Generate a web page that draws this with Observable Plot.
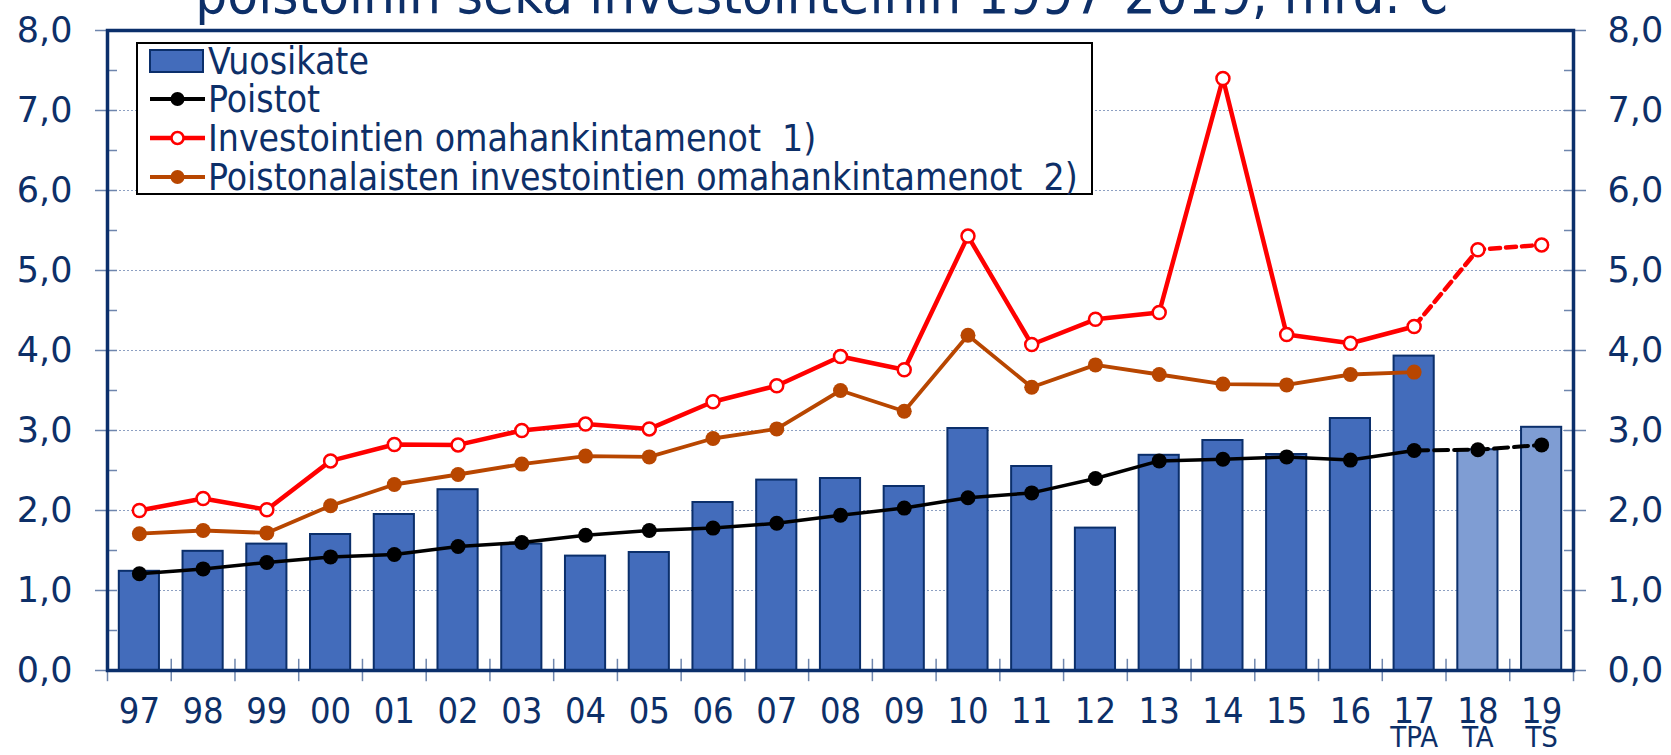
<!DOCTYPE html>
<html><head><meta charset="utf-8">
<script src="https://cdn.jsdelivr.net/npm/d3@7"></script>
<script src="https://cdn.jsdelivr.net/npm/@observablehq/plot@0.6"></script>
<style>
html,body{margin:0;padding:0;background:#fff;}
#wrap{position:relative;width:1671px;height:755px;overflow:hidden;background:#fff;}
#wrap > svg{position:absolute;left:0;top:0;}
</style></head>
<body><div id="wrap"></div>
<script>
// ---- data ----
const years = ["97","98","99","00","01","02","03","04","05","06","07","08","09","10","11","12","13","14","15","16","17","18","19"];
const subYears = ["17","18","19"];
const subLabels = ["TPA","TA","TS"];
const vuosikate = [1.24,1.49,1.58,1.70,1.95,2.26,1.58,1.43,1.475,2.10,2.38,2.40,2.30,3.025,2.55,1.78,2.69,2.875,2.70,3.15,3.93,2.76,3.04];
const poistot = [1.21,1.27,1.35,1.42,1.45,1.55,1.60,1.69,1.75,1.78,1.84,1.94,2.03,2.16,2.22,2.40,2.62,2.64,2.67,2.63,2.75,2.76,2.82];
const investoinnit = [2.00,2.15,2.01,2.62,2.825,2.82,3.00,3.08,3.02,3.36,3.56,3.925,3.76,5.43,4.075,4.39,4.475,7.40,4.20,4.09,4.30,5.26,5.32];
const poistonalaiset = [1.71,1.75,1.72,2.06,2.325,2.45,2.58,2.68,2.67,2.90,3.02,3.50,3.24,4.19,3.54,3.82,3.70,3.58,3.57,3.70,3.73];
const firstForecast = "18";
const yTicks = [0,1,2,3,4,5,6,7,8];
const yMinorTicks = [0.5,1.5,2.5,3.5,4.5,5.5,6.5,7.5];
const gridValues = [1,2,3,4,5,6,7];
const seriesNames = ["Vuosikate","Poistot","Investointien omahankintamenot  1)","Poistonalaisten investointien omahankintamenot  2)"];
const titleText = "poistoihin sekä investointeihin 1997-2019, mrd. €";

// ---- layout / style ----
const W = 1671, H = 755, ML = 107, MR = 98, MT = 30, MB = 85;
const step = (W - ML - MR) / years.length;
const navy = "#0b2f6b", txt = "#0d2f68", tickCol = "#6f86ad";
const barFill = "#436cbb", barFillFc = "#7f9dd3";
const red = "#ff0000", brown = "#b84600";
const condFont = "'DejaVu Sans Condensed','Liberation Sans Narrow','DejaVu Sans',sans-serif";
const wideFont = "'DejaVu Sans',Verdana,sans-serif";
const fcIndex = years.indexOf(firstForecast);
const fmt = d => d.toFixed(1).replace(".", ",");

const bars = years.map((y, i) => ({year: y, v: vuosikate[i], fill: i >= fcIndex ? barFillFc : barFill}));
const series = arr => arr.map((v, i) => ({year: years[i], v, i}));
const poi = series(poistot), inv = series(investoinnit), pal = series(poistonalaiset);
const isSolid = d => d.i <= fcIndex - 1;
const isDashed = d => d.i >= fcIndex - 1;
const subs = subYears.map((y, i) => ({year: y, t: subLabels[i]}));

const chart = Plot.plot({
  width: W, height: H,
  marginLeft: ML, marginRight: MR, marginTop: MT, marginBottom: MB,
  x: {type: "band", domain: years, paddingInner: 0.37, paddingOuter: 0.185, round: false, axis: null},
  y: {domain: [0, 8], axis: null},
  color: {type: "identity"},
  style: {background: "transparent", overflow: "visible", fontFamily: wideFont},
  marks: [
    Plot.ruleY(gridValues, {stroke: "#8da0c2", strokeWidth: 1.2, strokeDasharray: "2,2"}),
    Plot.barY(bars, {x: "year", y: "v", fill: "fill", stroke: navy, strokeWidth: 2}),
    // Poistot
    Plot.line(poi.filter(isSolid), {x: "year", y: "v", stroke: "#000", strokeWidth: 3.5}),
    Plot.line(poi.filter(isDashed), {x: "year", y: "v", stroke: "#000", strokeWidth: 4, strokeDasharray: "14,6"}),
    // Poistonalaiset
    Plot.line(pal, {x: "year", y: "v", stroke: brown, strokeWidth: 3.8}),
    Plot.dot(pal, {x: "year", y: "v", r: 7.5, fill: brown}),
    // Investoinnit
    Plot.line(inv.filter(isSolid), {x: "year", y: "v", stroke: red, strokeWidth: 4.5}),
    Plot.line(inv.filter(isDashed), {x: "year", y: "v", stroke: red, strokeWidth: 4.5, strokeDasharray: "10,6"}),
    Plot.dot(inv, {x: "year", y: "v", r: 6.5, fill: "#fff", stroke: red, strokeWidth: 2.5}),
    Plot.dot(poi, {x: "year", y: "v", r: 7.5, fill: "#000"}),
    // x boundary ticks
    Plot.ruleX(years, {x: d => d, y1: -0.14, y2: 0.14, dx: -step / 2, stroke: tickCol, strokeWidth: 1.5}),
    Plot.ruleX(years.slice(-1), {x: d => d, y1: -0.14, y2: 0.14, dx: step / 2, stroke: tickCol, strokeWidth: 1.5}),
    // y axes
    Plot.axisY({anchor: "left", ticks: yTicks, tickSize: 22, dx: 10, tickPadding: 23, tickFormat: fmt,
      fontSize: 35, fontFamily: wideFont, fill: txt, stroke: tickCol, strokeWidth: 1.5, label: null}),
    Plot.axisY({anchor: "left", ticks: yMinorTicks, tickSize: 10, dx: 10, tickFormat: null, text: null,
      stroke: tickCol, strokeWidth: 1.5, label: null}),
    Plot.axisY({anchor: "right", ticks: yTicks, tickSize: 22, dx: -10, tickPadding: 22, tickFormat: fmt,
      fontSize: 35, fontFamily: wideFont, fill: txt, stroke: tickCol, strokeWidth: 1.5, label: null}),
    Plot.axisY({anchor: "right", ticks: yMinorTicks, tickSize: 10, dx: -10, tickFormat: null, text: null,
      stroke: tickCol, strokeWidth: 1.5, label: null}),
    // x axis labels
    Plot.axisX({anchor: "bottom", tickSize: 0, tickPadding: 27, fontSize: 36, fontFamily: condFont, fill: txt, label: null}),
    Plot.text(subs, {x: "year", text: "t", frameAnchor: "bottom", dy: 76, fontSize: 29, fontFamily: condFont, fill: txt}),
    Plot.frame({stroke: navy, strokeWidth: 3.5})
  ]
});
const wrap = document.getElementById("wrap");
wrap.appendChild(chart);

// ---- overlay: title (clipped at top) and legend ----
const ov = d3.select(wrap).append("svg").attr("width", W).attr("height", H)
  .style("position", "absolute").style("left", 0).style("top", 0);
ov.append("text").attr("x", 822).attr("y", 13).attr("text-anchor", "middle")
  .style("font-family", condFont).style("font-size", "56px").attr("fill", txt).text(titleText);

const lg = ov.append("g");
lg.append("rect").attr("x", 137).attr("y", 43).attr("width", 955).attr("height", 151)
  .attr("fill", "#fff").attr("stroke", "#000").attr("stroke-width", 2);
const rowY = [61, 99, 138, 177];
const sx0 = 150, sx1 = 205, tx = 208;
// Vuosikate swatch
lg.append("rect").attr("x", sx0).attr("y", rowY[0] - 11).attr("width", sx1 - sx0 - 2).attr("height", 22)
  .attr("fill", barFill).attr("stroke", navy).attr("stroke-width", 2);
const lineSw = (y, color, hollow, w) => {
  lg.append("line").attr("x1", sx0).attr("x2", sx1).attr("y1", y).attr("y2", y).attr("stroke", color).attr("stroke-width", w);
  lg.append("circle").attr("cx", (sx0 + sx1) / 2).attr("cy", y).attr("r", hollow ? 6 : 7)
    .attr("fill", hollow ? "#fff" : color).attr("stroke", hollow ? color : "none").attr("stroke-width", 2.5);
};
lineSw(rowY[1], "#000", false, 4);
lineSw(rowY[2], red, true, 4.5);
lineSw(rowY[3], brown, false, 4);
seriesNames.forEach((s, i) => {
  lg.append("text").attr("x", tx).attr("y", rowY[i]).attr("dy", "0.36em")
    .style("font-family", condFont).style("font-size", "37px").style("white-space", "pre")
    .attr("fill", txt).text(s);
});
</script>
</body></html>
